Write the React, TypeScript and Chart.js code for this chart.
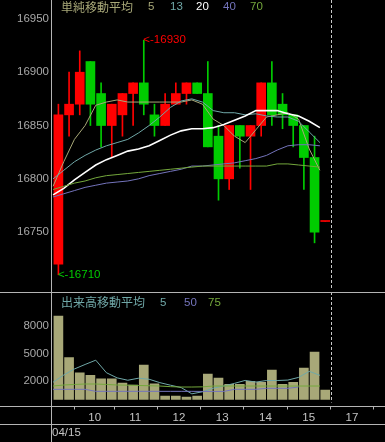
import React, { useEffect, useRef } from "react";
import { Chart, registerables } from "chart.js";

Chart.register(...registerables);

// ---- data ----
const candleOpen = [16720, 16860, 16870, 16910, 16880, 16850, 16860, 16880, 16890, 16860, 16850, 16870, 16880, 16890, 16880, 16840, 16800, 16850, 16840, 16850, 16890, 16870, 16860, 16850, 16820, 16760];
const candleClose = [16860, 16870, 16900, 16870, 16850, 16870, 16880, 16890, 16870, 16850, 16870, 16880, 16890, 16880, 16830, 16800, 16850, 16840, 16850, 16890, 16860, 16860, 16850, 16820, 16750, 16760];
const candleHigh = [16870, 16900, 16920, 16910, 16890, 16870, 16880, 16890, 16930, 16870, 16880, 16890, 16890, 16890, 16910, 16850, 16850, 16850, 16850, 16890, 16910, 16880, 16860, 16850, 16840, 16760];
const candleLow = [16710, 16840, 16860, 16850, 16830, 16820, 16840, 16850, 16860, 16840, 16850, 16870, 16870, 16880, 16830, 16780, 16790, 16810, 16790, 16840, 16850, 16847, 16830, 16790, 16740, 16760];

const ma5 = [16793, 16816, 16837, 16850, 16869, 16872, 16874, 16872, 16872, 16872, 16872, 16872, 16872, 16874, 16870, 16856, 16850, 16840, 16834, 16846, 16858, 16860, 16862, 16856, 16828, 16808];
const ma13 = [16800, 16808, 16816, 16822, 16827, 16831, 16834, 16837, 16843, 16850, 16858, 16867, 16873, 16875, 16872, 16864, 16862, 16862, 16860, 16861, 16859, 16858, 16858, 16854, 16844, 16834];
const ma20 = [16785, 16791, 16799, 16806, 16813, 16818, 16822, 16826, 16828, 16831, 16836, 16841, 16845, 16847, 16847, 16848, 16851, 16855, 16859, 16864, 16864, 16864, 16861, 16859, 16854, 16848];
const ma40 = [16783, 16786, 16789, 16792, 16794, 16796, 16797, 16798, 16800, 16803, 16805, 16807, 16809, 16812, 16812, 16813, 16814, 16815, 16817, 16819, 16822, 16827, 16831, 16832, 16832, 16831];
const ma70 = [16790, 16793, 16796, 16798, 16801, 16803, 16804, 16805, 16806, 16807, 16808, 16809, 16810, 16811, 16812, 16812, 16812, 16812, 16812, 16812, 16812, 16814, 16814, 16813, 16812, 16811];

const volumes = [9100, 4560, 2900, 2650, 2250, 2250, 1780, 1580, 3760, 1700, 380, 380, 270, 380, 2780, 2340, 1650, 1650, 1980, 1870, 3220, 1650, 1870, 3440, 5180, 1040];
const volMa5 = [1880, 2670, 3330, 3820, 4290, 2920, 2360, 2100, 2320, 2210, 1840, 1560, 1300, 620, 840, 1230, 1480, 1760, 2080, 1900, 2070, 2070, 2120, 2410, 3070, 2640];
const volMa50 = [1110, 1110, 1110, 1110, 890, 890, 890, 890, 890, 890, 890, 890, 890, 890, 880, 880, 880, 1110, 1110, 1110, 1220, 1220, 1220, 1360, null, null];
const volMa75 = [1470, 1580, 1640, 1690, 1690, 1640, 1580, 1560, 1530, 1500, 1470, 1400, 1360, 1360, 1380, 1470, 1470, 1470, 1470, 1470, 1470, 1470, 1470, 1470, 1470, 1470];

const priceTicks = [16750, 16800, 16850, 16900, 16950];
const volumeTicks = [2000, 5000, 8000];
const dayLabels = ["10", "11", "12", "13", "14", "15", "17"];
const dayTickValues = [3.4, 7.2, 11.3, 15.35, 19.4, 23.45, 27.5];
const dateLabel = "04/15";
const priceLegendTitle = "単純移動平均";
const priceLegendPeriods = ["5", "13", "20", "40", "70"];
const volumeLegendTitle = "出来高移動平均";
const volumeLegendPeriods = ["5", "50", "75"];

// ---- styles ----
const UP = "#ff0000";
const DOWN = "#00cc00";
const MA_COLORS = ["#a8a878", "#70a8a8", "#ffffff", "#7474bc", "#74a83c"];
const VOL_MA_COLORS = ["#70a8a8", "#7474bc", "#74a83c"];
const VOL_BAR = "#a8a878";
const FRAME = "#b4b4b4";
const NUM_FONT = "'Liberation Sans', 'DejaVu Sans', sans-serif";
const CJK = "'Noto Sans CJK JP', 'Noto Sans CJK SC', sans-serif";
const X_MIN = -0.6;
const X_MAX = 30.6;
const LAST = candleClose.length - 1;

function dashedBoundary(chart: any) {
  const { ctx, chartArea, scales } = chart;
  const px = Math.round(scales.x.getPixelForValue(LAST + 0.5)) + 0.5;
  ctx.save();
  ctx.strokeStyle = "#c8c8c8";
  ctx.lineWidth = 1;
  ctx.setLineDash([3, 2]);
  ctx.beginPath();
  ctx.moveTo(px, chartArea.top);
  ctx.lineTo(px, chartArea.bottom - 4);
  ctx.stroke();
  ctx.restore();
}

function drawLegend(ctx: any, title: string, titleColor: string, periods: string[], colors: string[], xs: number[], y: number) {
  ctx.save();
  ctx.textBaseline = "middle";
  ctx.textAlign = "left";
  ctx.font = `12px ${CJK}`;
  ctx.fillStyle = titleColor;
  ctx.fillText(title, 61, y);
  ctx.font = `11.5px ${NUM_FONT}`;
  periods.forEach((p, i) => {
    ctx.fillStyle = colors[i];
    ctx.fillText(p, xs[i], y);
  });
  ctx.restore();
}

const priceOverlay = {
  id: "priceOverlay",
  beforeDatasetsDraw(chart: any) {
    dashedBoundary(chart);
  },
  afterDatasetsDraw(chart: any) {
    const { ctx, scales } = chart;
    const maxHigh = Math.max(...candleHigh);
    const hi = candleHigh.indexOf(maxHigh);
    const minLow = Math.min(...candleLow);
    const lo = candleLow.indexOf(minLow);
    ctx.save();
    ctx.font = `11.5px ${NUM_FONT}`;
    ctx.textBaseline = "middle";
    ctx.textAlign = "left";
    ctx.fillStyle = UP;
    ctx.fillText("<-" + maxHigh, scales.x.getPixelForValue(hi) - 0.5, scales.y.getPixelForValue(maxHigh));
    ctx.fillStyle = DOWN;
    ctx.fillText("<-" + minLow, scales.x.getPixelForValue(lo) - 0.5, scales.y.getPixelForValue(minLow));
    ctx.restore();
    drawLegend(ctx, priceLegendTitle, "#a8a878", priceLegendPeriods, MA_COLORS, [148, 170, 196, 223, 250], 7);
  },
};

const volumeOverlay = {
  id: "volumeOverlay",
  beforeDatasetsDraw(chart: any) {
    dashedBoundary(chart);
  },
  afterDatasetsDraw(chart: any) {
    drawLegend(chart.ctx, volumeLegendTitle, "#70a8a8", volumeLegendPeriods, VOL_MA_COLORS, [160, 184, 208], 10.5);
  },
};

function lineDataset(values: (number | null)[], color: string, width = 1) {
  return {
    type: "line" as const,
    data: values.map((v, i) => ({ x: i - 0.5, y: v })),
    borderColor: color,
    borderWidth: width,
    pointRadius: 0,
    tension: 0,
    fill: false,
    order: 0,
  };
}

const labelFont = { family: NUM_FONT, size: 11.5 };

function fixWidth(s: any) {
  s.width = 52;
  s.paddingTop = 0;
  s.paddingBottom = 0;
  s.paddingLeft = 0;
  s.paddingRight = 0;
}

export default function App() {
  const priceRef = useRef<HTMLCanvasElement | null>(null);
  const volRef = useRef<HTMLCanvasElement | null>(null);

  useEffect(() => {
    const candleColors = candleClose.map((c, i) => (c >= candleOpen[i] ? UP : DOWN));
    const priceChart = new Chart(priceRef.current as HTMLCanvasElement, {
      type: "bar",
      data: {
        datasets: [
          lineDataset(ma70, MA_COLORS[4]),
          lineDataset(ma40, MA_COLORS[3]),
          lineDataset(ma20, MA_COLORS[2], 1.6),
          lineDataset(ma13, MA_COLORS[1]),
          lineDataset(ma5, MA_COLORS[0]),
          {
            type: "bar",
            data: candleOpen.map((o, i) => ({ x: i, y: [o, candleClose[i]] })),
            backgroundColor: candleColors,
            borderWidth: 0,
            barThickness: 9,
            minBarLength: 1,
            grouped: false,
            order: 1,
          },
          {
            type: "bar",
            data: candleLow.map((l, i) => ({ x: i, y: [l, candleHigh[i]] })),
            backgroundColor: candleColors,
            borderWidth: 0,
            barThickness: 1,
            grouped: false,
            order: 2,
          },
        ] as any,
      },
      options: {
        animation: false,
        responsive: false,
        maintainAspectRatio: false,
        layout: { padding: 0 },
        plugins: { legend: { display: false }, tooltip: { enabled: false } },
        scales: {
          x: { type: "linear", min: X_MIN, max: X_MAX, display: false, offset: false },
          y: {
            type: "linear",
            position: "left",
            min: 16693.9,
            max: 16967.7,
            bounds: "data",
            beginAtZero: false,
            afterFit: fixWidth,
            afterBuildTicks: (s: any) => {
              s.ticks = priceTicks.map((v) => ({ value: v }));
            },
            grid: { display: false, drawTicks: false },
            border: { display: false },
            ticks: { color: "#a8a8a8", font: labelFont, padding: 3, callback: (v: any) => String(v) },
          },
        },
      } as any,
      plugins: [priceOverlay],
    });

    const volChart = new Chart(volRef.current as HTMLCanvasElement, {
      type: "bar",
      data: {
        datasets: [
          lineDataset(volMa75, VOL_MA_COLORS[2]),
          lineDataset(volMa50, VOL_MA_COLORS[1]),
          lineDataset(volMa5, VOL_MA_COLORS[0]),
          {
            type: "bar",
            data: volumes.map((v, i) => ({ x: i, y: v })),
            backgroundColor: VOL_BAR,
            borderWidth: 0,
            barThickness: 9,
            grouped: false,
            order: 1,
          },
        ] as any,
      },
      options: {
        animation: false,
        responsive: false,
        maintainAspectRatio: false,
        layout: { padding: 0 },
        plugins: { legend: { display: false }, tooltip: { enabled: false } },
        scales: {
          x: {
            type: "linear",
            position: "bottom",
            min: X_MIN,
            max: X_MAX,
            offset: false,
            afterFit: (s: any) => {
              s.height = 35.5;
              s.paddingLeft = 0;
              s.paddingRight = 0;
              s.paddingTop = 0;
              s.paddingBottom = 0;
            },
            afterBuildTicks: (s: any) => {
              s.ticks = dayTickValues.map((v) => ({ value: v }));
            },
            grid: { display: true, drawOnChartArea: false, drawTicks: true, tickLength: 3, color: FRAME },
            border: { display: false },
            ticks: {
              color: "#c4c4c4",
              font: labelFont,
              padding: 1.5,
              maxRotation: 0,
              autoSkip: false,
              callback: (_v: any, i: number) => dayLabels[i],
            },
            title: {
              display: true,
              text: dateLabel,
              align: "start",
              color: "#c4c4c4",
              font: labelFont,
              padding: { top: 0, bottom: 2 },
            },
          },
          y: {
            type: "linear",
            position: "left",
            min: -764,
            max: 11727,
            bounds: "data",
            beginAtZero: false,
            afterFit: fixWidth,
            afterBuildTicks: (s: any) => {
              s.ticks = volumeTicks.map((v) => ({ value: v }));
            },
            grid: { display: false, drawTicks: false },
            border: { display: false },
            ticks: { color: "#a8a8a8", font: labelFont, padding: 3, callback: (v: any) => String(v) },
          },
        },
      } as any,
      plugins: [volumeOverlay],
    });

    return () => {
      priceChart.destroy();
      volChart.destroy();
    };
  }, []);

  const line = (style: React.CSSProperties) => (
    <div style={{ position: "absolute", background: FRAME, ...style }} />
  );

  return (
    <div style={{ position: "fixed", left: 0, top: 0, width: 385, height: 442, background: "#000", overflow: "hidden" }}>
      <canvas
        ref={priceRef}
        width={385}
        height={292}
        style={{ position: "absolute", left: 0, top: 0, width: 385, height: 292, display: "block" }}
      />
      <canvas
        ref={volRef}
        width={385}
        height={150}
        style={{ position: "absolute", left: 0, top: 292, width: 385, height: 150, display: "block" }}
      />
      {line({ left: 51, top: 0, width: 1, height: 442 })}
      {line({ left: 0, top: 292, width: 385, height: 1 })}
      {line({ left: 0, top: 406, width: 385, height: 1 })}
      {line({ left: 0, top: 424, width: 385, height: 1 })}
    </div>
  );
}
